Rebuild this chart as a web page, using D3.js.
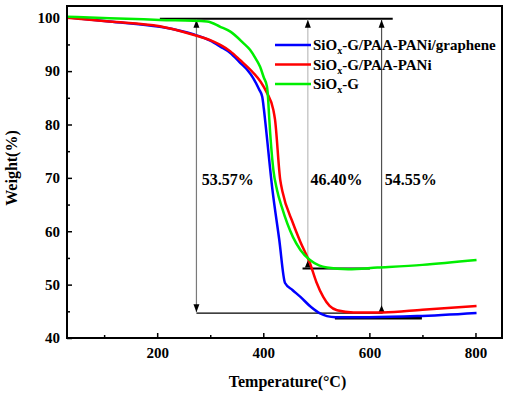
<!DOCTYPE html>
<html>
<head>
<meta charset="utf-8">
<script src="https://cdn.jsdelivr.net/npm/d3@7"></script>
<style>
  body { margin: 0; background: #fff; }
</style>
</head>
<body>
<div id="chart"></div>
<script>
// TGA curves, [temperature (°C), weight (%)]
let blueData = [[30,100.1],[110,99.3],[205,98.3],[268,96.9],[300,95.7],[319,94.6],[338,93.4],[356,91.6],[370,90.2],[381,88.7],[392,86.6],[398,85.2],[401,83.0],[404,80.3],[417,68.0],[430,58.5],[441,50.3],[455,49.0],[470,47.7],[490,45.8],[507,44.6],[520,44.1],[536,43.9],[600,43.9],[690,44.1],[802,44.7]]
let redData = [[30,100.0],[110,99.3],[205,98.4],[268,96.8],[300,95.8],[319,94.9],[338,93.7],[356,92.1],[381,89.7],[395,88.0],[407,85.9],[419,82.7],[422,81.0],[432,69.6],[436,67.5],[456,61.5],[470,58.0],[488,54.0],[500,50.5],[513,47.7],[525,46.0],[539,45.2],[570,44.8],[626,44.8],[700,45.3],[802,46.0]]
let greenData = [[30,100.2],[110,99.9],[205,99.6],[294,99.3],[319,98.3],[338,97.4],[362,95.3],[375,94.0],[386,92.3],[394,90.8],[401,88.8],[407,87.1],[409,85.0],[411,81.5],[419,71.5],[426,67.7],[435,64.5],[456,58.9],[470,56.5],[488,54.6],[505,53.6],[520,53.2],[560,52.9],[615,53.2],[700,53.7],[802,54.6]]

let seriesNames = ["SiOx-G/PAA-PANi/graphene", "SiOx-G/PAA-PANi", "SiOx-G"]
let seriesColors = ["#0000ff", "#ff0000", "#00ee00"]

let xMajor = [200, 400, 600, 800]
let xMinor = [100, 300, 500, 700]
let yMajor = [40, 50, 60, 70, 80, 90, 100]
let yMinor = [45, 55, 65, 75, 85, 95]

// annotation levels
let topLevel = 99.8
let lowLevel = 44.65
let greenLevel = 53.0
let blueLevel = 43.7
let lossLabels = [["53.57%", 284], ["46.40%", 489], ["54.55%", 629]]

let serif = "'Liberation Serif', 'Times New Roman', Times, 'DejaVu Serif', serif"

let margin = { top: 6, left: 67, right: 8, bottom: 56 },
  width = 510 - margin.left - margin.right,
  height = 394 - margin.top - margin.bottom

let svg = d3.select("#chart")
  .append("svg")
  .attr("width", 510)
  .attr("height", 394)
  .attr("font-family", serif)
  .attr("font-weight", "bold")

let defs = svg.append("defs")
defs.append("marker")
  .attr("id", "tip")
  .attr("viewBox", "0 -4 8 8")
  .attr("refX", 8).attr("refY", 0)
  .attr("markerUnits", "userSpaceOnUse")
  .attr("markerWidth", 8).attr("markerHeight", 8)
  .attr("orient", "auto-start-reverse")
  .append("path").attr("d", "M0,-3L8,0L0,3Z").attr("fill", "#000")
defs.append("marker")
  .attr("id", "base")
  .attr("viewBox", "0 -4 8 8")
  .attr("refX", 0).attr("refY", 0)
  .attr("markerUnits", "userSpaceOnUse")
  .attr("markerWidth", 8).attr("markerHeight", 8)
  .attr("orient", "auto")
  .append("path").attr("d", "M0,-3L7,0L0,3Z").attr("fill", "#000")

let g = svg.append("g").attr("transform", "translate(" + margin.left + "," + margin.top + ")")

let x = d3.scaleLinear().domain([30, 850]).range([0, width])
let y = d3.scaleLinear().domain([40, 102.2]).range([height, 0])

// x axis, ticks pointing inward
g.append("g")
  .attr("class", "axis axis--x")
  .attr("transform", "translate(0," + height + ")")
  .call(d3.axisBottom(x).tickValues(xMajor).tickSizeInner(-5).tickSizeOuter(0).tickPadding(9))
g.append("g")
  .attr("class", "axis minor")
  .attr("transform", "translate(0," + height + ")")
  .call(d3.axisBottom(x).tickValues(xMinor).tickSizeInner(-3).tickSizeOuter(0).tickFormat(""))

// y axis
g.append("g")
  .attr("class", "axis axis--y")
  .call(d3.axisLeft(y).tickValues(yMajor).tickSizeInner(-5).tickSizeOuter(0).tickPadding(7))
g.append("g")
  .attr("class", "axis minor")
  .call(d3.axisLeft(y).tickValues(yMinor).tickSizeInner(-3).tickSizeOuter(0).tickFormat(""))

g.selectAll(".axis").attr("font-family", serif).attr("font-size", 15)
g.selectAll(".axis .domain").remove()
g.selectAll(".axis line").attr("stroke", "#000").attr("stroke-width", 1.5)
g.selectAll(".axis text").attr("fill", "#000")

// annotation lines
g.append("line")
  .attr("x1", x(205)).attr("x2", x(644))
  .attr("y1", y(topLevel)).attr("y2", y(topLevel))
  .attr("stroke", "#000").attr("stroke-width", 2)
g.append("line")
  .attr("x1", x(274)).attr("x2", x(625))
  .attr("y1", y(lowLevel)).attr("y2", y(lowLevel))
  .attr("stroke", "#000").attr("stroke-width", 1.2)
g.append("line")
  .attr("x1", x(474)).attr("x2", x(601))
  .attr("y1", y(greenLevel)).attr("y2", y(greenLevel))
  .attr("stroke", "#000").attr("stroke-width", 2)
g.append("line")
  .attr("x1", x(535)).attr("x2", x(699))
  .attr("y1", y(blueLevel)).attr("y2", y(blueLevel))
  .attr("stroke", "#000").attr("stroke-width", 2.5)

// vertical arrows
g.append("line")
  .attr("x1", x(274)).attr("x2", x(274))
  .attr("y1", y(topLevel) + 1).attr("y2", y(lowLevel) - 1)
  .attr("stroke", "#7a7a7a").attr("stroke-width", 1.2)
  .attr("marker-start", "url(#tip)").attr("marker-end", "url(#tip)")
g.append("line")
  .attr("x1", x(484)).attr("x2", x(484))
  .attr("y1", y(greenLevel) - 1).attr("y2", y(topLevel) + 1)
  .attr("stroke", "#bdbdbd").attr("stroke-width", 1.2)
  .attr("marker-start", "url(#base)").attr("marker-end", "url(#tip)")
g.append("line")
  .attr("x1", x(623)).attr("x2", x(623))
  .attr("y1", y(lowLevel) - 1).attr("y2", y(topLevel) + 1)
  .attr("stroke", "#505050").attr("stroke-width", 1.2)
  .attr("marker-start", "url(#base)").attr("marker-end", "url(#tip)")

g.selectAll(".loss")
  .data(lossLabels)
  .enter().append("text")
  .attr("class", "loss")
  .attr("x", function(d) { return x(d[1]) })
  .attr("y", y(68.6))
  .attr("font-size", 16)
  .text(function(d) { return d[0] })

// curves
let line = d3.line()
  .curve(d3.curveMonotoneX)
  .x(function(d) { return x(d[0]) })
  .y(function(d) { return y(d[1]) })

let allSeries = [blueData, redData, greenData]
g.selectAll(".curve")
  .data(allSeries)
  .enter().append("path")
  .attr("class", "curve")
  .attr("d", line)
  .attr("fill", "none")
  .attr("stroke", function(d, i) { return seriesColors[i] })
  .attr("stroke-width", 2.5)
  .attr("stroke-linejoin", "round")

// legend
let legend = g.selectAll(".legend")
  .data(seriesNames)
  .enter().append("g")
  .attr("class", "legend")
  .attr("transform", function(d, i) { return "translate(208," + (39 + i * 19.5) + ")" })

legend.append("line")
  .attr("x1", 0).attr("x2", 36)
  .attr("stroke", function(d, i) { return seriesColors[i] })
  .attr("stroke-width", 2.5)

let ltext = legend.append("text")
  .attr("x", 38)
  .attr("y", 5)
  .attr("font-size", 15)
ltext.append("tspan").text("SiO")
ltext.append("tspan").attr("font-size", 10).attr("dy", 4).text("x")
ltext.append("tspan").attr("dy", -4).text(function(d) { return d.slice(4) })

// frame
g.append("rect")
  .attr("width", width).attr("height", height)
  .attr("fill", "none").attr("stroke", "#000").attr("stroke-width", 2)

// axis titles
svg.append("text")
  .attr("x", margin.left + width / 2 + 3)
  .attr("y", 387)
  .attr("text-anchor", "middle")
  .attr("font-size", 16)
  .text("Temperature(\u00b0C)")

svg.append("text")
  .attr("transform", "translate(17," + (margin.top + height / 2 - 4) + ") rotate(-90)")
  .attr("text-anchor", "middle")
  .attr("font-size", 16)
  .text("Weight(%)")
</script>
</body>
</html>
